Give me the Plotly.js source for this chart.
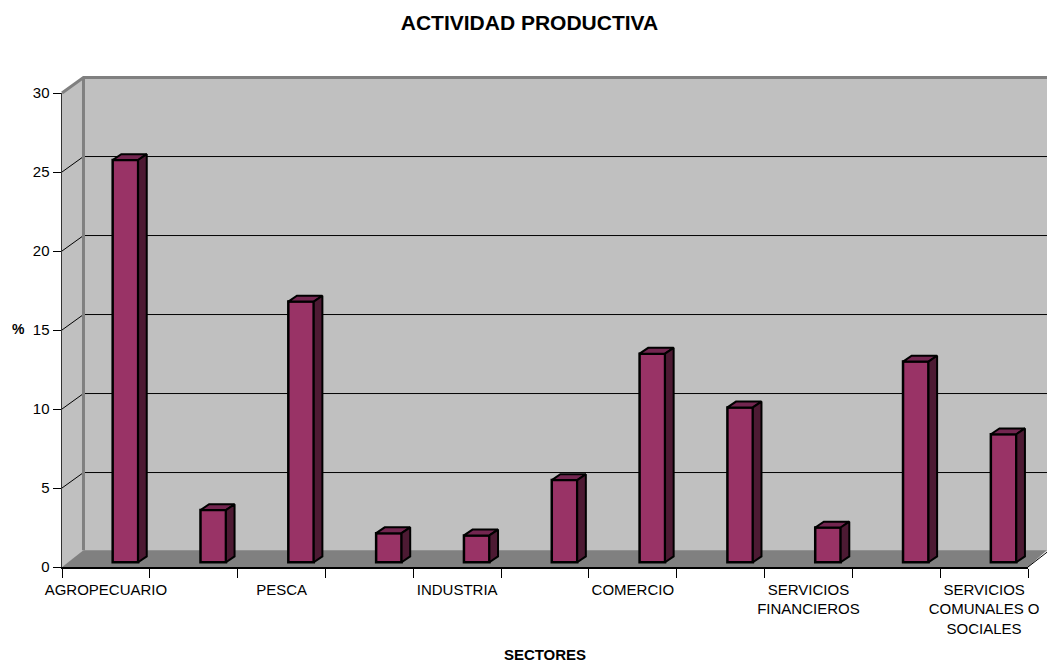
<!DOCTYPE html>
<html><head><meta charset="utf-8">
<script src="https://cdn.plot.ly/plotly-3.0.1.min.js"></script>
<style>html,body{margin:0;padding:0;background:#fff}</style>
</head><body><div id="chart" style="width:1047px;height:663px"></div>
<script>
const positions = [0,1,2,3,4,5,6,7,8,9,10];
const values = [25.46,3.3,16.5,1.84,1.7,5.2,13.2,9.8,2.2,12.7,8.1];
const labelPositions = [0,2,4,6,8,10];
const labelTexts = ['AGROPECUARIO','PESCA','INDUSTRIA','COMERCIO','SERVICIOS<br>FINANCIEROS','SERVICIOS<br>COMUNALES O<br>SOCIALES'];
const boundaries = [-0.5,0.5,1.5,2.5,3.5,4.5,5.5,6.5,7.5,8.5,9.5,10.5];
const yTicks = [0,5,10,15,20,25,30];

// 3D look parameters (axis units / paper units)
const barShift = 0.222, barWidth = 0.29, barDepthX = 0.098, barDepthY = 0.37, barBase = 0.3;
const wallDX = 21.5/966.5, wallDY = 15.45/473.7, floorDY = 16.7/473.7, wallRight = (1047-61.5)/966.5;

function poly(pts){return 'M'+pts.map(p=>p[0]+','+p[1]).join(' L')+' Z';}
function line(pts){return 'M'+pts.map(p=>p[0]+','+p[1]).join(' L');}
const P = {xref:'paper',yref:'paper',layer:'below',type:'path'};
const shapes = [
  {...P,path:poly([[wallDX,wallDY],[wallRight,wallDY],[wallRight,1+wallDY],[wallDX,1+wallDY]]),fillcolor:'#c0c0c0',line:{width:0}},
  {...P,path:poly([[0,0],[wallDX,wallDY],[wallDX,1+wallDY],[0,1]]),fillcolor:'#c0c0c0',line:{width:0}},
  {...P,path:poly([[0,0],[1,0],[wallRight,floorDY],[wallDX,floorDY]]),fillcolor:'#808080',line:{width:0}},
  {...P,path:line([[1,0],[wallRight,(wallRight-1)/wallDX*floorDY]]),line:{color:'#000',width:1}}
];
yTicks.filter(t=>t>0&&t<30).forEach(t=>{
  const f=t/30;
  shapes.push({...P,path:line([[0,f],[wallDX,f+wallDY],[wallRight,f+wallDY]]),line:{color:'#000',width:1}});
});
shapes.push({...P,path:line([[0,1],[wallDX,1+wallDY],[wallRight,1+wallDY]]),line:{color:'#808080',width:3}});
shapes.push({...P,path:line([[wallDX,floorDY],[wallDX,1+wallDY]]),line:{color:'#808080',width:3}});

const topX=[],topY=[],sideX=[],sideY=[];
positions.forEach((p,i)=>{
  const x0=p+barShift-barWidth/2,x1=p+barShift+barWidth/2,t=barBase+values[i];
  topX.push(x0,x0+barDepthX,x1+barDepthX,x1,x0,null);
  topY.push(t,t+barDepthY,t+barDepthY,t,t,null);
  sideX.push(x1,x1+barDepthX,x1+barDepthX,x1,x1,null);
  sideY.push(t,t+barDepthY,barBase+barDepthY,barBase,t,null);
});
const traces=[
  {type:'bar',x:positions.map(p=>p+barShift),y:values,base:barBase,width:barWidth,
   marker:{color:'#993366',line:{color:'#000',width:2.5}},hoverinfo:'skip'},
  {type:'scatter',mode:'lines',x:topX,y:topY,fill:'toself',fillcolor:'#732650',line:{color:'#000',width:2},hoverinfo:'skip'},
  {type:'scatter',mode:'lines',x:sideX,y:sideY,fill:'toself',fillcolor:'#4d1a33',line:{color:'#000',width:2},hoverinfo:'skip'}
];
const font={family:'"Liberation Sans",Arial,sans-serif',color:'#000'};
const layout={
  width:1047,height:663,showlegend:false,
  paper_bgcolor:'#fff',plot_bgcolor:'rgba(0,0,0,0)',
  margin:{l:61.5,r:19,t:93,b:96.3,pad:0},
  title:{text:'<b>ACTIVIDAD PRODUCTIVA</b>',x:529.5/1047,xanchor:'center',y:1-23/663,yanchor:'middle',font:{...font,size:21}},
  xaxis:{range:[-0.5,10.5],tickmode:'array',tickvals:labelPositions,ticktext:labelTexts,
    ticks:'outside',ticklen:8,tickcolor:'rgba(0,0,0,0)',tickangle:0,
    tickfont:{...font,size:15},showgrid:false,zeroline:false,showline:true,linecolor:'#000',linewidth:1.5,
    minor:{tickmode:'array',tickvals:boundaries,ticks:'outside',ticklen:9,tickcolor:'#000',tickwidth:1,showgrid:false},
    title:{text:'<b>SECTORES</b>',font:{...font,size:15},standoff:19},automargin:false},
  yaxis:{range:[0,30],tickmode:'array',tickvals:yTicks,ticks:'outside',ticklen:8,tickcolor:'#000',tickwidth:1,
    tickfont:{...font,size:15},showgrid:false,zeroline:false,showline:true,linecolor:'#333',linewidth:1.5,automargin:false},
  annotations:[{text:'<b>%</b>',xref:'paper',yref:'paper',x:-43.5/966.5,y:(566.7-329)/473.7,xanchor:'center',yanchor:'middle',showarrow:false,font:{...font,size:14}}],
  shapes:shapes
};
Plotly.newPlot('chart',traces,layout,{displayModeBar:false,staticPlot:true});
</script></body></html>
